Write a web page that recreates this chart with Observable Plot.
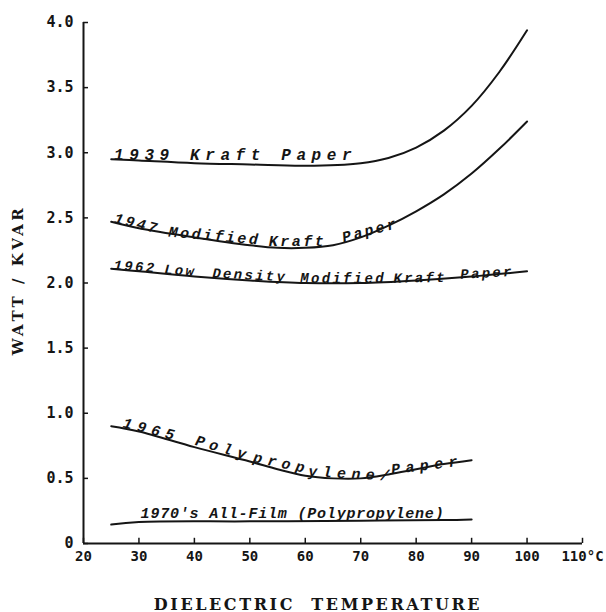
<!DOCTYPE html>
<html><head><meta charset="utf-8">
<script src="https://cdn.jsdelivr.net/npm/d3@7"></script>
<script src="https://cdn.jsdelivr.net/npm/@observablehq/plot@0.6"></script>
<style>
html,body{margin:0;padding:0;background:#fff;}
#chart svg{display:block;}
</style></head><body><div id="chart"></div>
<script>
// Series data (temperature °C, watt/kvar)
const temps1939 = [25, 30, 40, 50, 60, 70, 75, 80, 85, 90, 95, 100];
const watts1939 = [2.95, 2.94, 2.92, 2.91, 2.90, 2.92, 2.96, 3.04, 3.17, 3.36, 3.62, 3.94];
const temps1947 = [25, 30, 40, 50, 55, 60, 65, 70, 75, 80, 85, 90, 95, 100];
const watts1947 = [2.47, 2.42, 2.35, 2.29, 2.27, 2.27, 2.29, 2.35, 2.44, 2.55, 2.68, 2.84, 3.03, 3.24];
const temps1962 = [25, 30, 40, 50, 60, 70, 80, 90, 100];
const watts1962 = [2.11, 2.09, 2.05, 2.02, 2.00, 2.00, 2.02, 2.05, 2.09];
const temps1965 = [25, 30, 40, 50, 55, 60, 65, 70, 75, 80, 85, 90];
const watts1965 = [0.90, 0.86, 0.74, 0.63, 0.57, 0.52, 0.50, 0.50, 0.53, 0.57, 0.61, 0.64];
const temps1970 = [25, 30, 50, 70, 85, 90];
const watts1970 = [0.145, 0.165, 0.17, 0.175, 0.18, 0.185];

const xTicks = [20, 30, 40, 50, 60, 70, 80, 90, 100, 110];
const xTickLabels = ["20", "30", "40", "50", "60", "70", "80", "90", "100", "110°C"];
const yTicks = [0, 0.5, 1.0, 1.5, 2.0, 2.5, 3.0, 3.5, 4.0];
const yTickLabels = ["0", "0.5", "1.0", "1.5", "2.0", "2.5", "3.0", "3.5", "4.0"];

// Curve label annotations (text placed along the curves)
const labelSeries = ["1939", "1947", "1947", "1947", "1947",
  "1962", "1962", "1962", "1962", "1962", "1962",
  "1965", "1965", "1965", "1965", "1965", "1970"];
const labelWords = ["1939 Kraft Paper", "1947", "Modified", "Kraft", "Paper",
  "1962", "Low", "Density", "Modified", "Kraft", "Paper",
  "1965", "Poly", "prop", "ylene/", "Paper", "1970's All-Film (Polypropylene)"];
const labelTemps = [25.5, 25.4, 35.3, 53.4, 66.9,
  25.4, 34.5, 43.2, 59.1, 75.9, 88.0,
  27.0, 40.0, 50.5, 60.5, 75.6, 30.3];
const labelWatts = [2.955, 2.472, 2.365, 2.288, 2.32,
  2.111, 2.079, 2.05, 2.004, 2.01, 2.04,
  0.90, 0.765, 0.635, 0.525, 0.54, 0.207];
const labelAngles = [0, 14, 5, 0, -15,
  4, 4, 3, 0, -1, -3,
  14, 16, 12, 3, -7, 0];

const series = [
  ["1939", temps1939, watts1939],
  ["1947", temps1947, watts1947],
  ["1962", temps1962, watts1962],
  ["1965", temps1965, watts1965],
  ["1970", temps1970, watts1970]
];
const points = series.flatMap(([name, ts, ws]) => ts.map((t, i) => ({name, t, w: ws[i]})));
const labels = labelWords.map((text, i) => ({series: labelSeries[i], text, t: labelTemps[i], w: labelWatts[i], rot: labelAngles[i]}));

const labelStyle = {
  "1939": {size: 16, spacing: 5.6},
  "1947": {size: 15, spacing: 2.5},
  "1962": {size: 14, spacing: 2.3},
  "1965": {size: 15, spacing: 5.4},
  "1970": {size: 15, spacing: 0.8}
};
const labelKeys = Object.keys(labelStyle);
const labelMarks = labelKeys.map(s => Plot.text(labels.filter(d => d.series === s), {
  x: "t", y: "w", text: "text", rotate: "rot",
  textAnchor: "start", lineAnchor: "bottom", dy: 1,
  fontFamily: "Liberation Mono", fontSize: labelStyle[s].size, fontWeight: "bold", fontStyle: "italic",
  fill: "#151515"
}));

const chart = Plot.plot({
  width: 606, height: 612,
  marginLeft: 83, marginRight: 24, marginTop: 22, marginBottom: 69,
  style: {fontFamily: "DejaVu Sans Mono", fontSize: "15px", fontWeight: "bold", background: "#fff", color: "#151515"},
  x: {domain: [20, 110], label: null},
  y: {domain: [0, 4], label: null},
  marks: [
    Plot.ruleX([20], {stroke: "#151515", strokeWidth: 2}),
    Plot.ruleY([0], {stroke: "#151515", strokeWidth: 2}),
    Plot.ruleX(xTicks, {x: d => d, y1: 0, y2: 0.04, stroke: "#151515", strokeWidth: 1.5}),
    Plot.ruleY(yTicks, {y: d => d, x1: 20, x2: 20.9, stroke: "#151515", strokeWidth: 1.5}),
    Plot.axisX(xTicks, {tickSize: 0, tickPadding: 8, tickFormat: d => xTickLabels[xTicks.indexOf(d)], label: null, fontSize: 14, fontWeight: "bold"}),
    Plot.axisY(yTicks, {tickSize: 0, tickPadding: 10, tickFormat: d => yTickLabels[yTicks.indexOf(d)], label: null, fontSize: 15, fontWeight: "bold"}),
    Plot.line(points, {x: "t", y: "w", z: "name", curve: "catmull-rom", stroke: "#151515", strokeWidth: 2}),
    ...labelMarks,
    Plot.text(["DIELECTRIC  TEMPERATURE"], {frameAnchor: "bottom", dx: -15, dy: 66, lineAnchor: "bottom", textAnchor: "middle",
      fontFamily: "DejaVu Serif", fontSize: 16, fontWeight: "bold"}),
    Plot.text(["WATT / KVAR"], {frameAnchor: "left", dx: -65, dy: -3, rotate: -90, textAnchor: "middle",
      fontFamily: "DejaVu Serif", fontSize: 15, fontWeight: "bold"})
  ]
});
// letter spacing for the text marks (in mark order: curve labels, x title, y title)
const textGroups = d3.select(chart).selectAll('g[aria-label="text"]').nodes();
labelKeys.forEach((s, i) => d3.select(textGroups[i]).selectAll("text").style("letter-spacing", labelStyle[s].spacing + "px"));
d3.select(textGroups[labelKeys.length]).selectAll("text").style("letter-spacing", "2.6px");
d3.select(textGroups[labelKeys.length + 1]).selectAll("text").style("letter-spacing", "3.5px");
document.getElementById("chart").appendChild(chart);
</script>
</body></html>
